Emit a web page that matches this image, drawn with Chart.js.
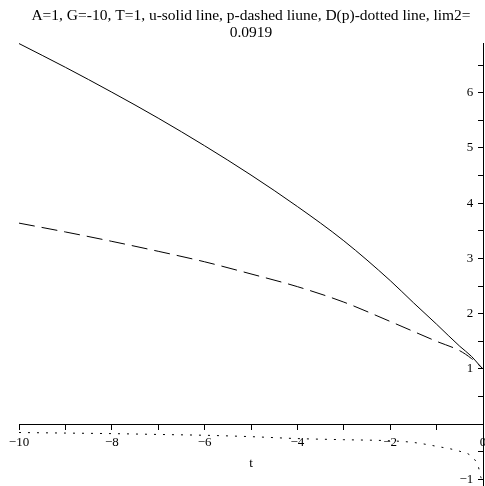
<!DOCTYPE html>
<html>
<head>
<meta charset="utf-8">
<script src="https://cdn.jsdelivr.net/npm/chart.js@4/dist/chart.umd.min.js"></script>
<style>
  html, body { margin: 0; padding: 0; background: #fff; }
</style>
</head>
<body>
<canvas id="plot" width="485" height="486"></canvas>
<script>
const titleLines = [
  "A=1, G=-10, T=1, u-solid line, p-dashed liune, D(p)-dotted line, lim2=",
  "0.0919"
];
const axisTitle = "t";

const tValues = [-10, -9, -8, -7, -6, -5, -4, -3, -2, -1.5, -1, -0.5, -0.25, -0.1, -0.05, 0];
const uValues = [6.89, 6.46, 6.01, 5.54, 5.04, 4.51, 3.94, 3.32, 2.6, 2.2, 1.81, 1.41, 1.23, 1.09, 1.045, 1.0];
const pValues = [3.64, 3.48, 3.31, 3.13, 2.94, 2.72, 2.49, 2.21, 1.86, 1.68, 1.5, 1.33, 1.19, 1.08, 1.04, 1.0];
const dValues = [-0.15, -0.16, -0.17, -0.185, -0.2, -0.225, -0.26, -0.28, -0.3, -0.33, -0.4, -0.49, -0.58, -0.77, -0.95, -1.02];

const xTicks = [-10, -9, -8, -7, -6, -5, -4, -3, -2, -1, 0];
const xLabels = [-10, -8, -6, -4, -2, 0];
const yTicks = [-1, -0.5, 0, 0.5, 1, 1.5, 2, 2.5, 3, 3.5, 4, 4.5, 5, 5.5, 6, 6.5];
const yLabels = [-1, 1, 2, 3, 4, 5, 6];

const serif = "'Liberation Serif', 'Times New Roman', serif";

function pts(ys) {
  return tValues.map((t, i) => ({ x: t, y: ys[i] }));
}

// maple style minus sign
const num = v => String(v).replace("-", "\u2212");

const line = (data, dash) => ({
  data: pts(data),
  borderColor: "#000",
  borderWidth: 1,
  borderDash: dash,
  pointRadius: 0,
  cubicInterpolationMode: "monotone",
  fill: false
});

new Chart(document.getElementById("plot"), {
  type: "line",
  data: {
    datasets: [
      line(uValues, []),
      line(pValues, [16, 7]),
      line(dValues, [2, 7])
    ]
  },
  options: {
    responsive: false,
    animation: false,
    layout: { padding: { left: 19, right: 2, top: 0, bottom: 1 } },
    plugins: {
      legend: { display: false },
      tooltip: { enabled: false },
      title: {
        display: true,
        text: titleLines,
        color: "#000",
        font: { family: serif, size: 15.5, weight: "normal", lineHeight: "17px" },
        padding: { top: 7, bottom: 2 }
      }
    },
    scales: {
      x: {
        type: "linear",
        position: { y: 0 },
        min: -10,
        max: 0,
        afterBuildTicks: ax => { ax.ticks = xTicks.map(v => ({ value: v })); },
        afterFit: ax => { ax.paddingLeft = 0; ax.paddingRight = 0; },
        ticks: {
          autoSkip: false,
          maxRotation: 0,
          padding: 6,
          color: "#000",
          font: { family: serif, size: 13, lineHeight: 1.15 },
          callback: v => xLabels.includes(v) ? num(v) : ""
        },
        grid: { drawOnChartArea: false, tickLength: 5, color: "#000" },
        border: { color: "#000", width: 1 },
        title: {
          display: true,
          text: axisTitle,
          color: "#000",
          font: { family: serif, size: 13, lineHeight: 1.15 },
          padding: { top: 0, bottom: 0 }
        }
      },
      y: {
        type: "linear",
        position: { x: 0 },
        min: -1.1,
        max: 6.9,
        afterBuildTicks: ax => { ax.ticks = yTicks.map(v => ({ value: v })); },
        afterFit: ax => { ax.paddingTop = 0; ax.paddingBottom = 0; },
        ticks: {
          autoSkip: false,
          padding: 6,
          color: "#000",
          font: { family: serif, size: 13 },
          callback: v => yLabels.includes(v) ? num(v) + "   " : ""
        },
        grid: { drawOnChartArea: false, tickLength: 5, color: "#000" },
        border: { color: "#000", width: 1 }
      }
    }
  }
});
</script>
</body>
</html>
